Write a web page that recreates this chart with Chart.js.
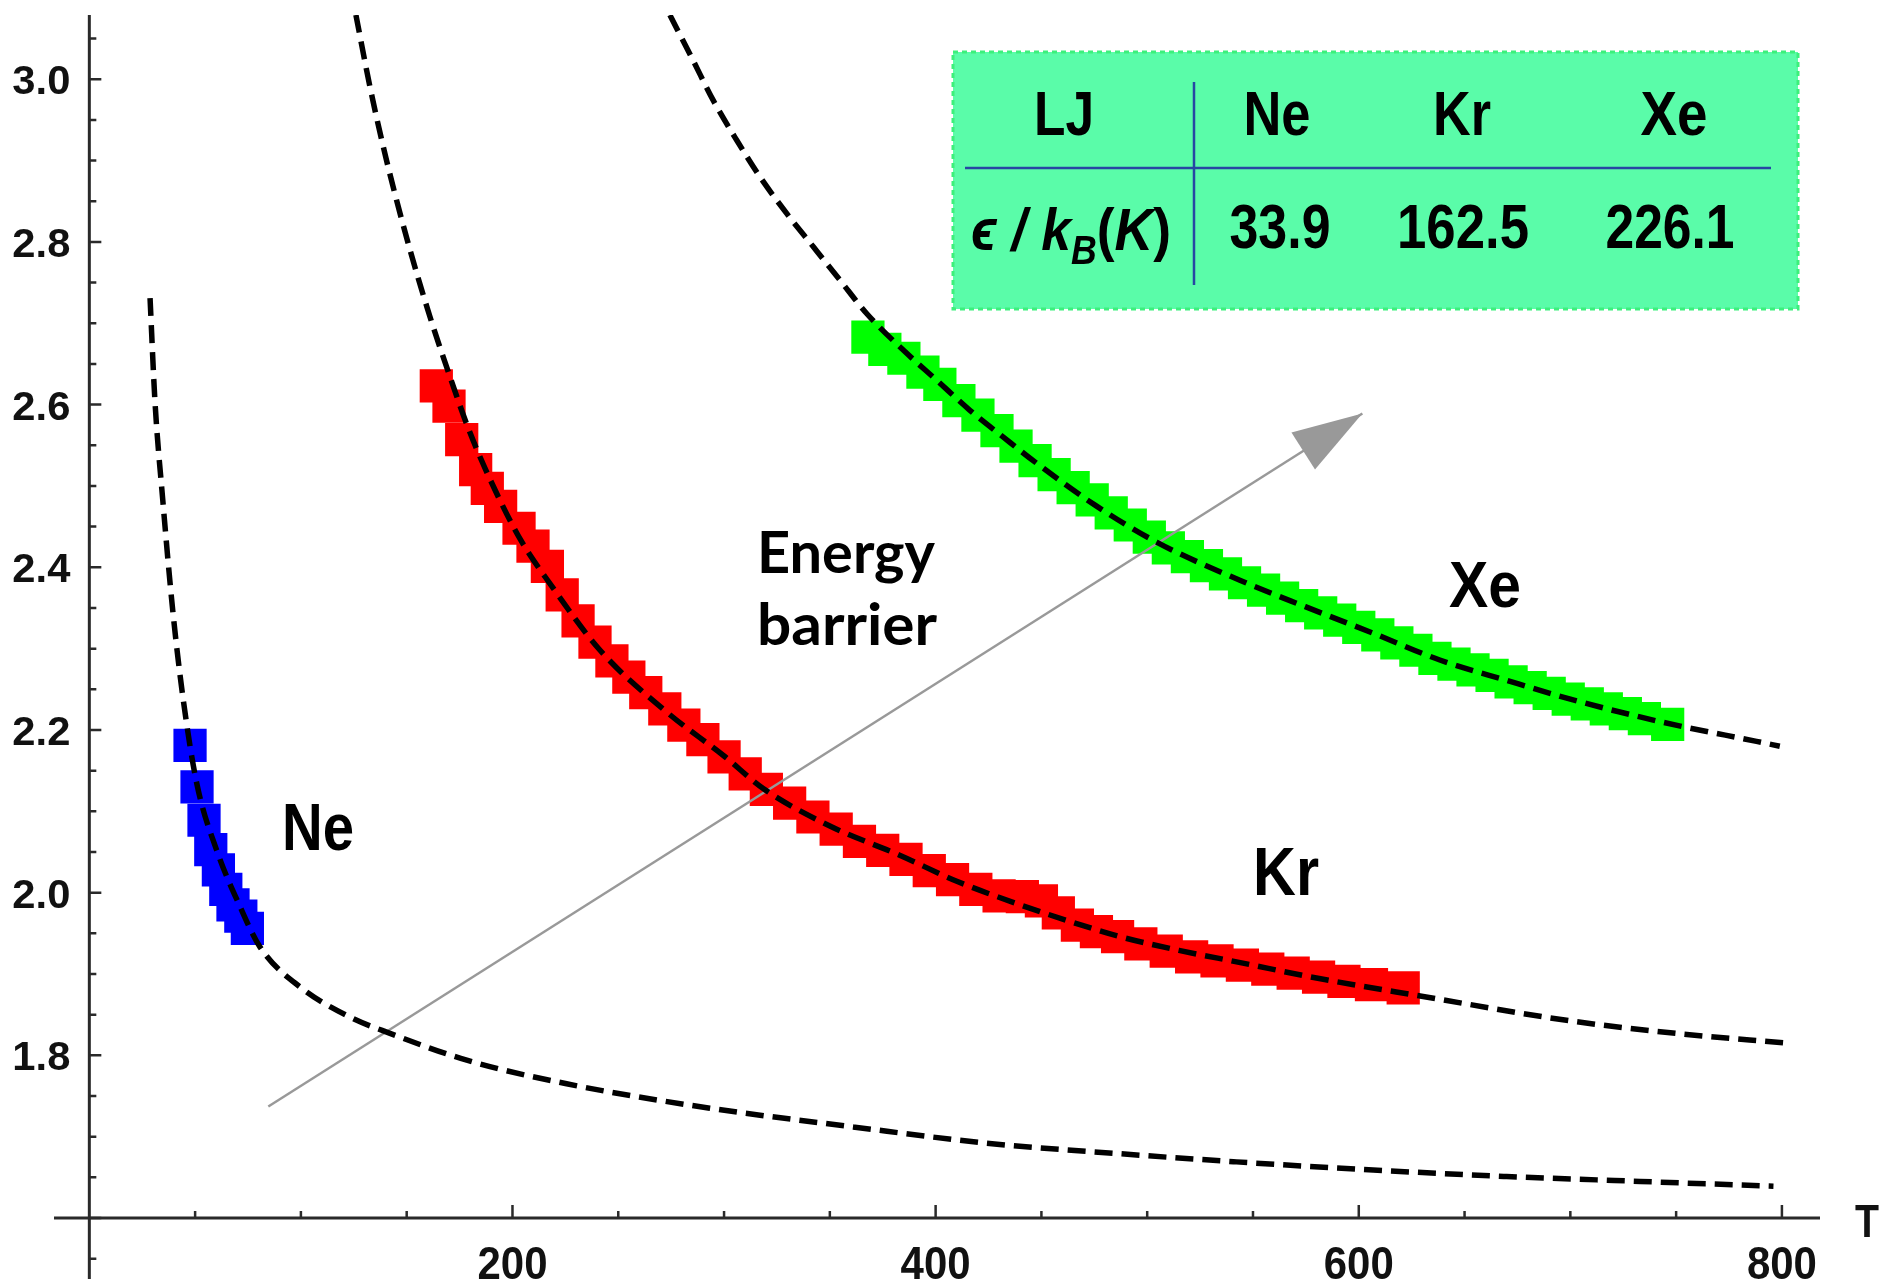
<!DOCTYPE html>
<html>
<head>
<meta charset="utf-8">
<script src="https://cdn.jsdelivr.net/npm/chart.js@4.4.1/dist/chart.umd.min.js"></script>
<style>
  html, body { margin: 0; padding: 0; background: #fff; }
  #wrap { width: 1879px; height: 1288px; }
</style>
</head>
<body>
<div id="wrap"><canvas id="myChart" width="1879" height="1288"></canvas></div>
<script>
const ctx = document.getElementById("myChart");

// simulated points (T in K)
const neT = [47.6, 50.9, 54.2, 57.4, 61.0, 64.5, 67.9, 71.6, 74.7];
const neY = [2.181, 2.130, 2.089, 2.053, 2.028, 2.004, 1.985, 1.971, 1.956];

const krT = [164.0, 170.0, 176.0, 182.6, 188.1, 194.4, 203.1, 209.7, 216.5, 223.5, 231, 239, 247, 255, 263, 272,
  281, 290, 300, 310, 320, 331, 342, 353, 364, 375, 386, 397, 408, 419, 430, 441, 450, 458, 467, 476, 486,
  497, 509, 521, 533, 545, 557, 569, 581, 593, 606, 621];
const krY = [2.623, 2.598, 2.557, 2.520, 2.497, 2.475, 2.448, 2.426, 2.401, 2.366, 2.334, 2.308, 2.285, 2.265,
  2.246, 2.226, 2.206, 2.188, 2.167, 2.146, 2.127, 2.110, 2.093, 2.078, 2.063, 2.052, 2.041, 2.027, 2.016,
  2.004, 1.996, 1.995, 1.990, 1.975, 1.960, 1.952, 1.946, 1.937, 1.928, 1.921, 1.916, 1.911, 1.906, 1.901,
  1.896, 1.891, 1.887, 1.883];

const xeT = [368, 376, 385, 394, 402, 411, 420, 429, 438, 447, 456, 465, 474, 483, 492, 501, 510, 519, 528, 537,
  546, 555, 564, 573, 582, 591, 600, 609, 618, 627, 636, 645, 654, 663, 672, 681, 690, 699, 708, 717, 726, 735, 746];
const xeY = [2.683, 2.668, 2.657, 2.640, 2.625, 2.605, 2.587, 2.568, 2.549, 2.531, 2.514, 2.498, 2.483, 2.467,
  2.452, 2.437, 2.424, 2.413, 2.402, 2.392, 2.381, 2.372, 2.362, 2.353, 2.344, 2.335, 2.326, 2.317, 2.307,
  2.298, 2.288, 2.281, 2.274, 2.267, 2.259, 2.252, 2.245, 2.238, 2.232, 2.226, 2.220, 2.214, 2.207];

// dashed fit curves
const neFitT = [28.7, 31.0, 34.7, 39.5, 44.4, 50.8, 60.2, 71.2, 80.7, 99.6, 123.2, 142.1, 178.4, 225.6, 293.3,
  361, 424.1, 487.1, 542.2, 606.8, 669.9, 733, 796];
const neFitY = [2.731, 2.605, 2.483, 2.345, 2.237, 2.134, 2.052, 1.983, 1.933, 1.884, 1.847, 1.827, 1.794, 1.765,
  1.735, 1.712, 1.692, 1.679, 1.669, 1.659, 1.651, 1.645, 1.639];

const krFitT = [126, 132.7, 140.5, 151.6, 161, 168.9, 180, 192.5, 204, 217.7, 241.4, 272.9, 300, 318.5, 350, 383,
  410, 440, 463, 487, 515, 544, 580, 629, 701, 750, 802];
const krFitY = [3.079, 2.990, 2.900, 2.790, 2.708, 2.646, 2.565, 2.491, 2.433, 2.380, 2.298, 2.222, 2.168, 2.128,
  2.082, 2.046, 2.014, 1.985, 1.965, 1.946, 1.929, 1.914, 1.895, 1.873, 1.842, 1.827, 1.815];

const xeFitT = [274.4, 285.4, 294.9, 306, 317, 329.6, 342.2, 354.8, 367.4, 384.7, 400.5, 416.2, 432, 447.7, 475,
  504.4, 543.8, 575.3, 606.8, 638.3, 669.8, 701.3, 732.9, 753.3, 788, 799];
const xeFitY = [3.079, 3.023, 2.974, 2.925, 2.880, 2.835, 2.794, 2.753, 2.712, 2.667, 2.630, 2.593, 2.560, 2.528,
  2.477, 2.431, 2.384, 2.351, 2.319, 2.286, 2.261, 2.237, 2.216, 2.204, 2.186, 2.180];

// "energy barrier" arrow, tail -> head
const arrowT = [84.6, 601.7];
const arrowY = [1.737, 2.589];

const xTickLabels = [200, 400, 600, 800];
const yTickLabels = [1.8, 2.0, 2.2, 2.4, 2.6, 2.8, 3.0];

const tableHead = ["LJ", "Ne", "Kr", "Xe"];
const tableEps = ["33.9", "162.5", "226.1"];

const toPoints = (xs, ys) => xs.map((x, i) => ({ x: x, y: ys[i] }));

const SANS = "'Liberation Sans', Arial, sans-serif";

function fitText(c, text, x, y, font, width, align) {
  c.save();
  c.font = font;
  const w = c.measureText(text).width;
  c.translate(x, y);
  c.scale(width ? width / w : 1, 1);
  c.textAlign = align || "center";
  c.textBaseline = "alphabetic";
  c.fillText(text, 0, 0);
  c.restore();
}

const decorations = {
  id: "decorations",
  beforeDatasetsDraw(chart) {
    const { ctx: c, chartArea: area, scales: { x, y } } = chart;
    const x0 = x.getPixelForValue(0);
    const y0 = y.getPixelForValue(1.6);

    c.save();
    c.strokeStyle = "#2a2a2a";
    c.lineWidth = 3;
    c.beginPath();
    c.moveTo(area.left, y0);
    c.lineTo(area.right, y0);
    c.moveTo(x0, area.top);
    c.lineTo(x0, area.bottom);
    c.stroke();

    c.lineWidth = 2.5;
    c.beginPath();
    for (let t = 50; t <= 800; t += 50) {
      const px = x.getPixelForValue(t);
      const len = t % 200 === 0 ? 13 : 7;
      c.moveTo(px, y0);
      c.lineTo(px, y0 - len);
    }
    for (let k = 31; k <= 61; k++) {
      const py = y.getPixelForValue(k * 0.05);
      const len = k % 4 === 0 ? 12 : 7;
      c.moveTo(x0, py);
      c.lineTo(x0 + len, py);
    }
    c.stroke();

    c.fillStyle = "#111";
    yTickLabels.forEach((v) => {
      fitText(c, v.toFixed(1), x0 - 19, y.getPixelForValue(v) + 15, "bold 41px " + SANS, 58, "right");
    });
    xTickLabels.forEach((v) => {
      fitText(c, String(v), x.getPixelForValue(v), y0 + 61, "bold 47px " + SANS, 70);
    });
    fitText(c, "T", 1855, y0 + 19, "bold 47px " + SANS, 24, "left");
    c.restore();
  },
  afterDatasetsDraw(chart) {
    const { ctx: c, scales: { x, y } } = chart;

    // arrow head
    const ax = x.getPixelForValue(arrowT[0]), ay = y.getPixelForValue(arrowY[0]);
    const bx = x.getPixelForValue(arrowT[1]), by = y.getPixelForValue(arrowY[1]);
    const d = Math.hypot(bx - ax, by - ay);
    const ux = (bx - ax) / d, uy = (by - ay) / d;
    c.save();
    c.fillStyle = "#999";
    c.beginPath();
    c.moveTo(bx, by);
    c.lineTo(bx - 70 * ux - 22 * uy, by - 70 * uy + 22 * ux);
    c.lineTo(bx - 70 * ux + 22 * uy, by - 70 * uy - 22 * ux);
    c.closePath();
    c.fill();

    // curve labels
    c.fillStyle = "#000";
    fitText(c, "Ne", 318, 850, "bold 67px " + SANS, 72);
    fitText(c, "Kr", 1286, 895, "bold 68px " + SANS, 66);
    fitText(c, "Xe", 1485, 607, "bold 65px " + SANS, 72);

    fitText(c, "Energy", 757, 573, "bold 58px Lato, 'Open Sans', sans-serif", 178, "left");
    fitText(c, "barrier", 757, 645, "bold 58px Lato, 'Open Sans', sans-serif", 180, "left");

    // LJ parameter table
    c.fillStyle = "#5afca9";
    c.fillRect(953, 52, 845, 257);
    c.strokeStyle = "#3cf07c";
    c.lineWidth = 3;
    c.setLineDash([5, 4]);
    c.strokeRect(953, 52, 845, 257);
    c.setLineDash([]);
    c.strokeStyle = "#2747a3";
    c.lineWidth = 2.5;
    c.beginPath();
    c.moveTo(965, 168);
    c.lineTo(1771, 168);
    c.moveTo(1194, 82);
    c.lineTo(1194, 285);
    c.stroke();

    c.fillStyle = "#000";
    const headX = [1064, 1277, 1462, 1674];
    const headW = [60, 67, 58, 67];
    tableHead.forEach((s, i) => fitText(c, s, headX[i], 135, "bold 63px " + SANS, headW[i]));
    const epsX = [1280, 1463, 1670];
    const epsW = [101, 132, 129];
    tableEps.forEach((s, i) => fitText(c, s, epsX[i], 248, "bold 63px " + SANS, epsW[i]));

    // epsilon / k_B (K)
    const bold = "bold 60px " + SANS + ", 'DejaVu Sans'";
    const ital = "italic bold 60px " + SANS + ", 'DejaVu Sans'";
    const parts = [
      { t: "\u03f5", f: ital, dy: 0 },
      { t: " / ", f: ital, dy: 0 },
      { t: "k", f: ital, dy: 0 },
      { t: "B", f: "italic bold 40px " + SANS, dy: 14 },
      { t: "(", f: bold, dy: 0 },
      { t: "K", f: ital, dy: 0 },
      { t: ")", f: bold, dy: 0 },
    ];
    let total = 0;
    parts.forEach((p) => { c.font = p.f; p.w = c.measureText(p.t).width; total += p.w; });
    const sx = 200 / total;
    c.translate(971, 250);
    c.scale(sx, 1);
    c.textAlign = "left";
    let cx = 0;
    parts.forEach((p) => { c.font = p.f; c.fillText(p.t, cx, p.dy); cx += p.w; });
    c.restore();
  },
};

const square = (color) => ({
  pointStyle: "rect",
  pointRadius: 23.5,
  pointHoverRadius: 23.5,
  pointBorderWidth: 0,
  backgroundColor: color,
  borderColor: color,
  showLine: false,
});

const dashed = {
  type: "line",
  showLine: true,
  pointRadius: 0,
  borderColor: "#000",
  borderWidth: 5.5,
  borderDash: [18, 9],
  cubicInterpolationMode: "monotone",
  fill: false,
};

new Chart(ctx, {
  type: "scatter",
  data: {
    datasets: [
      { label: "Ne fit", data: toPoints(neFitT, neFitY), ...dashed },
      { label: "Kr fit", data: toPoints(krFitT, krFitY), ...dashed },
      { label: "Xe fit", data: toPoints(xeFitT, xeFitY), ...dashed },
      {
        label: "arrow",
        type: "line",
        data: toPoints(arrowT, arrowY),
        borderColor: "#999",
        borderWidth: 2.5,
        pointRadius: 0,
        fill: false,
      },
      { label: "Ne", data: toPoints(neT, neY), ...square("#0000ff") },
      { label: "Kr", data: toPoints(krT, krY), ...square("#ff0000") },
      { label: "Xe", data: toPoints(xeT, xeY), ...square("#00ff00") },
    ],
  },
  options: {
    responsive: false,
    animation: false,
    devicePixelRatio: 1,
    layout: { autoPadding: false, padding: { left: 54, right: 59, top: 15, bottom: 9 } },
    scales: {
      x: { type: "linear", min: -16.7, max: 818, display: false },
      y: { type: "linear", min: 1.525, max: 3.079, display: false },
    },
    plugins: {
      legend: { display: false },
      tooltip: { enabled: false },
    },
  },
  plugins: [decorations],
});
</script>
</body>
</html>
